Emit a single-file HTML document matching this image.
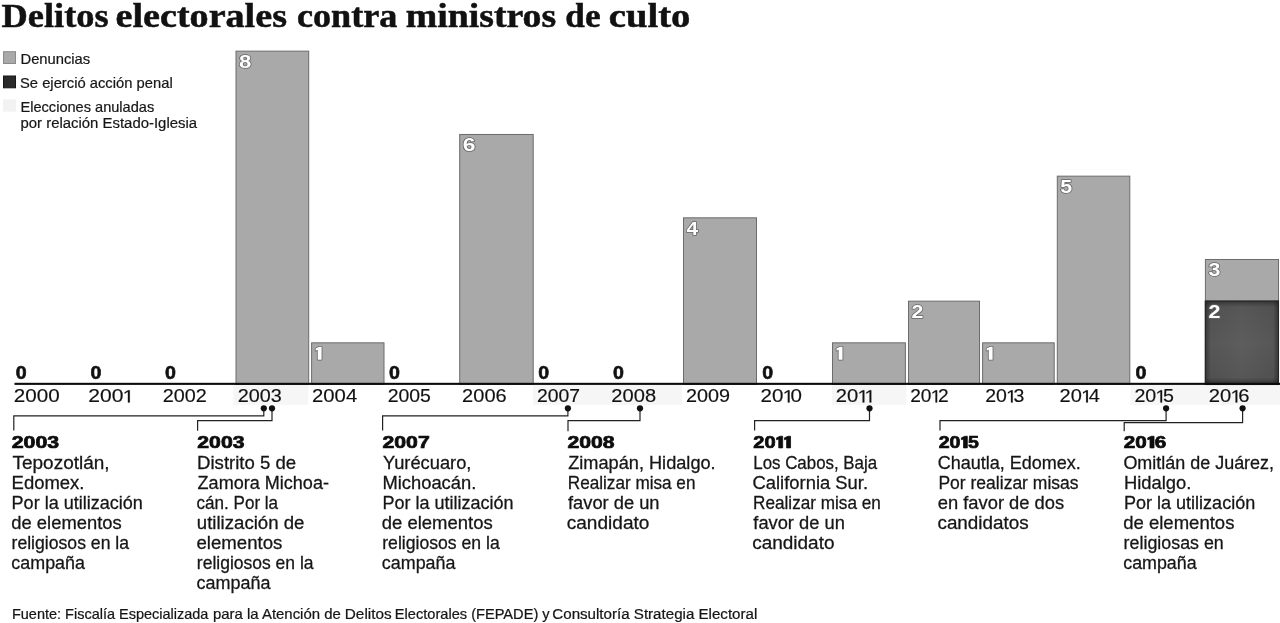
<!DOCTYPE html>
<html lang="es"><head><meta charset="utf-8"><title>Delitos electorales contra ministros de culto</title>
<style>
html,body{margin:0;padding:0;background:#fff;}
body{width:1280px;height:623px;overflow:hidden;font-family:"Liberation Sans",sans-serif;}
svg{display:block;will-change:transform;}
text{font-family:"Liberation Sans",sans-serif;fill:#1a1a1a;}
.title{font-family:"Liberation Serif",serif;font-weight:bold;font-size:33.4px;fill:#111;stroke:#111;stroke-width:0.5px;}
.yr{font-size:17.7px;fill:#111;stroke:#111;stroke-width:0.15px;}
.zero{font-size:17.8px;font-weight:bold;fill:#111;stroke:#111;stroke-width:0.6px;}
.num{font-size:18.8px;font-weight:bold;fill:#fff;stroke:#666;stroke-width:1.5px;paint-order:stroke fill;stroke-linejoin:round;}
.hd{font-size:16.9px;font-weight:bold;fill:#0d0d0d;stroke:#0d0d0d;stroke-width:0.7px;}
.bd{font-size:18.1px;fill:#161616;stroke:#161616;stroke-width:0.28px;}
.lg{font-size:14.4px;fill:#161616;stroke:#161616;stroke-width:0.2px;}
.ft{font-size:14px;fill:#161616;stroke:#161616;stroke-width:0.22px;}
.ln{fill:none;stroke:#222;stroke-width:1.2px;}
</style></head><body>
<svg width="1280" height="623" viewBox="0 0 1280 623">
<defs>
<linearGradient id="gh" x1="0" y1="0" x2="1" y2="0"><stop offset="0" stop-color="#000" stop-opacity="0.42"/><stop offset="0.08" stop-color="#000" stop-opacity="0.07"/><stop offset="0.5" stop-color="#000" stop-opacity="0"/><stop offset="0.92" stop-color="#000" stop-opacity="0.07"/><stop offset="1" stop-color="#000" stop-opacity="0.42"/></linearGradient>
<linearGradient id="gv" x1="0" y1="0" x2="0" y2="1"><stop offset="0" stop-color="#000" stop-opacity="0.42"/><stop offset="0.075" stop-color="#000" stop-opacity="0.07"/><stop offset="0.5" stop-color="#000" stop-opacity="0"/><stop offset="0.925" stop-color="#000" stop-opacity="0.07"/><stop offset="1" stop-color="#000" stop-opacity="0.42"/></linearGradient>
</defs>
<rect width="1280" height="623" fill="#fff"/>
<rect x="3.5" y="51.7" width="12" height="11.8" fill="#a9a9a9" stroke="#8a8a8a" stroke-width="1"/>
<rect x="3.5" y="76" width="12" height="11.8" fill="#2a2a2a" stroke="#161616" stroke-width="1"/>
<rect x="3" y="99.3" width="13" height="12.3" fill="#f2f2f2"/>
<rect x="233.4" y="385" width="74.8" height="19.8" fill="#f6f6f6"/>
<rect x="533.0" y="385" width="149.0" height="19.8" fill="#f6f6f6"/>
<rect x="832.0" y="385" width="74.2" height="19.8" fill="#f6f6f6"/>
<rect x="1130.6" y="385" width="149.4" height="19.8" fill="#f6f6f6"/>
<rect x="236.00" y="51.14" width="72.70" height="333.36" fill="#a9a9a9" stroke="#6c6c6c" stroke-width="1"/>
<rect x="311.60" y="342.83" width="72.40" height="41.67" fill="#a9a9a9" stroke="#6c6c6c" stroke-width="1"/>
<rect x="459.70" y="134.48" width="73.50" height="250.02" fill="#a9a9a9" stroke="#6c6c6c" stroke-width="1"/>
<rect x="683.50" y="217.82" width="73.00" height="166.68" fill="#a9a9a9" stroke="#6c6c6c" stroke-width="1"/>
<rect x="832.50" y="342.83" width="72.90" height="41.67" fill="#a9a9a9" stroke="#6c6c6c" stroke-width="1"/>
<rect x="908.50" y="301.16" width="71.00" height="83.34" fill="#a9a9a9" stroke="#6c6c6c" stroke-width="1"/>
<rect x="982.60" y="342.83" width="71.60" height="41.67" fill="#a9a9a9" stroke="#6c6c6c" stroke-width="1"/>
<rect x="1057.30" y="176.15" width="72.50" height="208.35" fill="#a9a9a9" stroke="#6c6c6c" stroke-width="1"/>
<rect x="1205.40" y="259.49" width="73.10" height="125.01" fill="#a9a9a9" stroke="#6c6c6c" stroke-width="1"/>
<rect x="1204.90" y="300.66" width="74.10" height="83.34" fill="#5d5d5d"/>
<rect x="1204.90" y="300.66" width="74.10" height="83.34" fill="url(#gh)"/>
<rect x="1204.90" y="300.66" width="74.10" height="83.34" fill="url(#gv)"/>
<rect x="1205.40" y="301.16" width="73.10" height="83.34" fill="none" stroke="#262626" stroke-width="1.1"/>
<rect x="14.5" y="382.8" width="1265.5" height="2.1" fill="#0c0c0c"/>
<path class="ln" d="M263.8 408.3V415.8H13.8V430.5"/><circle cx="263.8" cy="408.3" r="3.1" fill="#111"/>
<path class="ln" d="M272.0 408.3V420.6H197.6V430.8"/><circle cx="272.0" cy="408.3" r="3.1" fill="#111"/>
<path class="ln" d="M567.9 408.3V415.8H382.6V430.5"/><circle cx="567.9" cy="408.3" r="3.1" fill="#111"/>
<path class="ln" d="M640.0 408.3V420.6H568.0V431.2"/><circle cx="640.0" cy="408.3" r="3.1" fill="#111"/>
<path class="ln" d="M869.5 408.3V420.6H754.6V430.5"/><circle cx="869.5" cy="408.3" r="3.1" fill="#111"/>
<path class="ln" d="M1166.1 408.3V420.6H940.0V430.5"/><circle cx="1166.1" cy="408.3" r="3.1" fill="#111"/>
<path class="ln" d="M1242.6 408.3V422.7H1124.2V431.3"/><circle cx="1242.6" cy="408.3" r="3.1" fill="#111"/>
<text class="title" transform="translate(1.60,27.3) scale(1.0888,1)">Delitos</text>
<text class="title" transform="translate(115.56,27.3) scale(1.1416,1)">electorales</text>
<text class="title" transform="translate(296.92,27.3) scale(1.0826,1)">contra</text>
<text class="title" transform="translate(405.77,27.3) scale(1.1313,1)">ministros</text>
<text class="title" transform="translate(565.35,27.3) scale(1.0531,1)">de</text>
<text class="title" transform="translate(608.84,27.3) scale(1.1574,1)">culto</text>
<text class="lg" transform="translate(20.47,63.8) scale(1.0254,1)">Denuncias</text>
<text class="lg" transform="translate(19.97,87.8) scale(1.0265,1)">Se ejerció acción penal</text>
<text class="lg" transform="translate(20.49,111.9) scale(1.0130,1)">Elecciones anuladas</text>
<text class="lg" transform="translate(20.46,128.1) scale(1.0365,1)">por relación Estado-Iglesia</text>
<text class="yr" transform="translate(13.84,402.4) scale(1.1645,1)">2000</text>
<g transform="translate(88.31,402.4) scale(1.1912,1)"><text class="yr" x="0.00">200</text><path class="yr" d="M33.25 0.00L33.25 -10.69L30.51 -8.73L30.51 -10.20L33.38 -12.18L34.82 -12.18L34.82 0.00Z"/></g>
<text class="yr" transform="translate(162.63,402.4) scale(1.1184,1)">2002</text>
<text class="yr" transform="translate(237.63,402.4) scale(1.1184,1)">2003</text>
<text class="yr" transform="translate(312.05,402.4) scale(1.1474,1)">2004</text>
<text class="yr" transform="translate(387.65,402.4) scale(1.0987,1)">2005</text>
<text class="yr" transform="translate(462.12,402.4) scale(1.1316,1)">2006</text>
<text class="yr" transform="translate(536.91,402.4) scale(1.0947,1)">2007</text>
<text class="yr" transform="translate(611.36,402.4) scale(1.1368,1)">2008</text>
<text class="yr" transform="translate(685.88,402.4) scale(1.1184,1)">2009</text>
<g transform="translate(760.59,402.4) scale(1.1618,1)"><text class="yr" x="0.00">20</text><path class="yr" d="M23.41 0.00L23.41 -10.69L20.66 -8.73L20.66 -10.20L23.54 -12.18L24.97 -12.18L24.97 0.00Z"/><text class="yr" x="25.77">0</text></g>
<g transform="translate(835.86,402.4) scale(1.1417,1)"><text class="yr" x="0.00">20</text><path class="yr" d="M23.41 0.00L23.41 -10.69L20.66 -8.73L20.66 -10.20L23.54 -12.18L24.97 -12.18L24.97 0.00Z"/><path class="yr" d="M29.49 0.00L29.49 -10.69L26.74 -8.73L26.74 -10.20L29.62 -12.18L31.06 -12.18L31.06 0.00Z"/></g>
<g transform="translate(910.17,402.4) scale(1.0809,1)"><text class="yr" x="0.00">20</text><path class="yr" d="M23.41 0.00L23.41 -10.69L20.66 -8.73L20.66 -10.20L23.54 -12.18L24.97 -12.18L24.97 0.00Z"/><text class="yr" x="25.77">2</text></g>
<g transform="translate(985.15,402.4) scale(1.1029,1)"><text class="yr" x="0.00">20</text><path class="yr" d="M23.41 0.00L23.41 -10.69L20.66 -8.73L20.66 -10.20L23.54 -12.18L24.97 -12.18L24.97 0.00Z"/><text class="yr" x="25.77">3</text></g>
<g transform="translate(1059.62,402.4) scale(1.1324,1)"><text class="yr" x="0.00">20</text><path class="yr" d="M23.41 0.00L23.41 -10.69L20.66 -8.73L20.66 -10.20L23.54 -12.18L24.97 -12.18L24.97 0.00Z"/><text class="yr" x="25.77">4</text></g>
<g transform="translate(1134.39,402.4) scale(1.1103,1)"><text class="yr" x="0.00">20</text><path class="yr" d="M23.41 0.00L23.41 -10.69L20.66 -8.73L20.66 -10.20L23.54 -12.18L24.97 -12.18L24.97 0.00Z"/><text class="yr" x="25.77">5</text></g>
<g transform="translate(1208.86,402.4) scale(1.1397,1)"><text class="yr" x="0.00">20</text><path class="yr" d="M23.41 0.00L23.41 -10.69L20.66 -8.73L20.66 -10.20L23.54 -12.18L24.97 -12.18L24.97 0.00Z"/><text class="yr" x="25.77">6</text></g>
<text class="hd" transform="translate(11.70,447.9) scale(1.2622,1)">2003</text>
<text class="bd" transform="translate(12.50,469.0) scale(1.0484,1)">Tepozotlán,</text>
<text class="bd" transform="translate(11.58,489.0) scale(1.0217,1)">Edomex.</text>
<text class="bd" transform="translate(11.60,509.0) scale(0.9962,1)">Por la utilización</text>
<text class="bd" transform="translate(11.28,529.0) scale(1.0168,1)">de elementos</text>
<text class="bd" transform="translate(11.53,549.0) scale(0.9733,1)">religiosos en la</text>
<text class="bd" transform="translate(11.31,569.0) scale(0.9892,1)">campaña</text>
<text class="hd" transform="translate(197.30,447.9) scale(1.2568,1)">2003</text>
<text class="bd" transform="translate(197.07,469.0) scale(1.0263,1)">Distrito 5 de</text>
<text class="bd" transform="translate(197.60,489.0) scale(0.9977,1)">Zamora Michoa-</text>
<text class="bd" transform="translate(196.56,509.0) scale(0.9430,1)">cán. Por la</text>
<text class="bd" transform="translate(196.77,529.0) scale(1.0291,1)">utilización de</text>
<text class="bd" transform="translate(196.47,549.0) scale(1.0293,1)">elementos</text>
<text class="bd" transform="translate(196.83,569.0) scale(0.9675,1)">religiosos en la</text>
<text class="bd" transform="translate(196.51,589.0) scale(0.9932,1)">campaña</text>
<text class="hd" transform="translate(382.50,447.9) scale(1.2568,1)">2007</text>
<text class="bd" transform="translate(383.00,469.0) scale(1.0105,1)">Yurécuaro,</text>
<text class="bd" transform="translate(382.49,489.0) scale(1.0133,1)">Michoacán.</text>
<text class="bd" transform="translate(382.51,509.0) scale(0.9946,1)">Por la utilización</text>
<text class="bd" transform="translate(381.78,529.0) scale(1.0215,1)">de elementos</text>
<text class="bd" transform="translate(382.23,549.0) scale(0.9733,1)">religiosos en la</text>
<text class="bd" transform="translate(381.81,569.0) scale(0.9892,1)">campaña</text>
<text class="hd" transform="translate(567.50,447.9) scale(1.2553,1)">2008</text>
<text class="bd" transform="translate(568.20,469.0) scale(1.0048,1)">Zimapán, Hidalgo.</text>
<text class="bd" transform="translate(567.75,489.0) scale(0.9474,1)">Realizar misa en</text>
<text class="bd" transform="translate(568.00,509.0) scale(1.0111,1)">favor de un</text>
<text class="bd" transform="translate(566.75,529.0) scale(1.0532,1)">candidato</text>
<g transform="translate(753.20,447.9) scale(1.1906,1)"><text class="hd" x="0.00">20</text><path class="hd" d="M21.45 0.00L21.45 -8.95L19.64 -8.05L19.64 -10.03L22.61 -11.63L24.75 -11.63L24.75 0.00Z"/><path class="hd" d="M28.08 0.00L28.08 -8.95L26.27 -8.05L26.27 -10.03L29.24 -11.63L31.38 -11.63L31.38 0.00Z"/></g>
<text class="bd" transform="translate(753.27,469.0) scale(0.9326,1)">Los Cabos, Baja</text>
<text class="bd" transform="translate(752.48,489.0) scale(1.0171,1)">California Sur.</text>
<text class="bd" transform="translate(753.05,509.0) scale(0.9481,1)">Realizar misa en</text>
<text class="bd" transform="translate(753.30,529.0) scale(1.0111,1)">favor de un</text>
<text class="bd" transform="translate(752.15,549.0) scale(1.0481,1)">candidato</text>
<g transform="translate(938.70,447.9) scale(1.1571,1)"><text class="hd" x="0.00">20</text><path class="hd" d="M21.45 0.00L21.45 -8.95L19.64 -8.05L19.64 -10.03L22.61 -11.63L24.75 -11.63L24.75 0.00Z"/><text class="hd" x="25.43">5</text></g>
<text class="bd" transform="translate(937.70,469.0) scale(0.9957,1)">Chautla, Edomex.</text>
<text class="bd" transform="translate(938.43,489.0) scale(0.9685,1)">Por realizar misas</text>
<text class="bd" transform="translate(937.69,509.0) scale(1.0146,1)">en favor de dos</text>
<text class="bd" transform="translate(937.46,529.0) scale(1.0419,1)">candidatos</text>
<g transform="translate(1123.70,447.9) scale(1.2257,1)"><text class="hd" x="0.00">20</text><path class="hd" d="M21.45 0.00L21.45 -8.95L19.64 -8.05L19.64 -10.03L22.61 -11.63L24.75 -11.63L24.75 0.00Z"/><text class="hd" x="25.43">6</text></g>
<text class="bd" transform="translate(1123.41,469.0) scale(0.9926,1)">Omitlán de Juárez,</text>
<text class="bd" transform="translate(1123.88,489.0) scale(1.0156,1)">Hidalgo.</text>
<text class="bd" transform="translate(1123.90,509.0) scale(0.9969,1)">Por la utilización</text>
<text class="bd" transform="translate(1123.18,529.0) scale(1.0243,1)">de elementos</text>
<text class="bd" transform="translate(1123.61,549.0) scale(0.9860,1)">religiosas en</text>
<text class="bd" transform="translate(1123.21,569.0) scale(0.9865,1)">campaña</text>
<text class="ft" transform="translate(11.96,619.1) scale(1.0354,1)">Fuente: Fiscalía Especializada</text>
<text class="ft" transform="translate(212.93,619.1) scale(1.0678,1)">para la Atención de</text>
<text class="ft" transform="translate(344.80,619.1) scale(1.0951,1)">Delitos</text>
<text class="ft" transform="translate(394.86,619.1) scale(1.0449,1)">Electorales (FEPADE) y</text>
<text class="ft" transform="translate(552.32,619.1) scale(1.0803,1)">Consultoría Strategia Electoral</text>
<text class="zero" transform="translate(15.75,378.9) scale(1.1000,1)">0</text>
<text class="zero" transform="translate(90.40,378.9) scale(1.1000,1)">0</text>
<text class="zero" transform="translate(165.05,378.9) scale(1.1000,1)">0</text>
<text class="zero" transform="translate(389.00,378.9) scale(1.1000,1)">0</text>
<text class="zero" transform="translate(538.30,378.9) scale(1.1000,1)">0</text>
<text class="zero" transform="translate(612.95,378.9) scale(1.1000,1)">0</text>
<text class="zero" transform="translate(762.25,378.9) scale(1.1000,1)">0</text>
<text class="zero" transform="translate(1135.50,378.9) scale(1.1000,1)">0</text>
<text class="num" transform="translate(239.00,68.0) scale(1.1800,1)">8</text>
<g transform="translate(314.60,359.7) scale(1.0571,1)"><path class="num" d="M2.95 0.00L2.95 -9.96L0.94 -8.95L0.94 -11.15L4.24 -12.93L6.62 -12.93L6.62 0.00Z"/></g>
<text class="num" transform="translate(462.70,151.4) scale(1.2200,1)">6</text>
<text class="num" transform="translate(686.50,234.7) scale(1.1091,1)">4</text>
<g transform="translate(835.50,359.7) scale(1.0571,1)"><path class="num" d="M2.95 0.00L2.95 -9.96L0.94 -8.95L0.94 -11.15L4.24 -12.93L6.62 -12.93L6.62 0.00Z"/></g>
<text class="num" transform="translate(911.50,318.1) scale(1.1400,1)">2</text>
<g transform="translate(985.60,359.7) scale(1.0571,1)"><path class="num" d="M2.95 0.00L2.95 -9.96L0.94 -8.95L0.94 -11.15L4.24 -12.93L6.62 -12.93L6.62 0.00Z"/></g>
<text class="num" transform="translate(1060.30,193.0) scale(1.1400,1)">5</text>
<text class="num" transform="translate(1208.40,276.4) scale(1.1400,1)">3</text>
<text class="num" transform="translate(1208.40,318.1) scale(1.1400,1)">2</text>
</svg>
</body></html>
